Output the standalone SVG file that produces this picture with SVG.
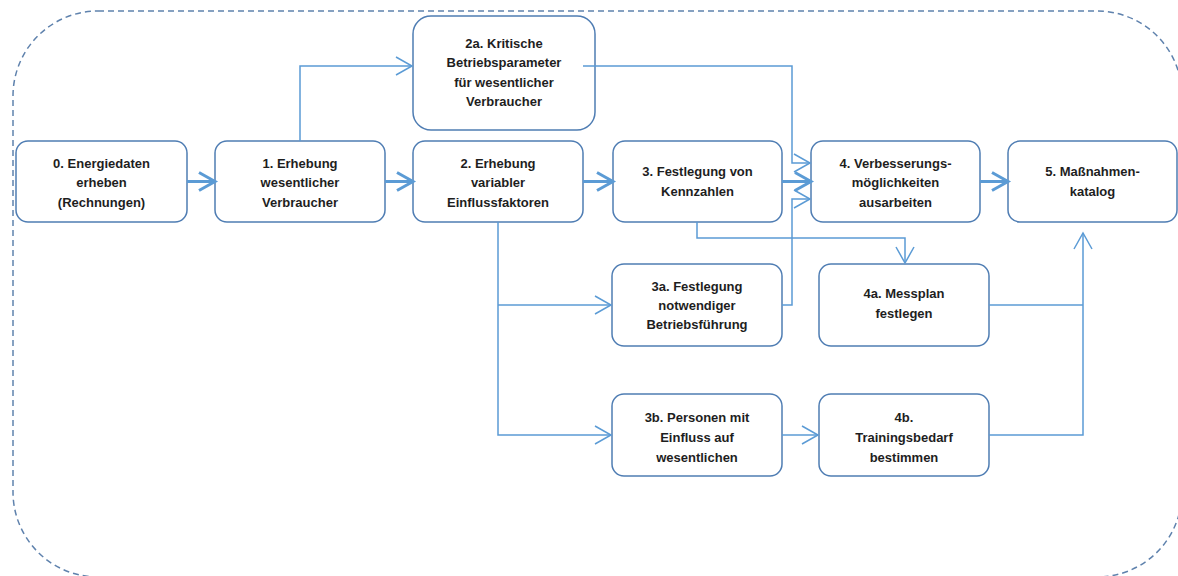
<svg xmlns="http://www.w3.org/2000/svg" width="1178" height="576" viewBox="0 0 1178 576">
<defs>
<style>
.box{fill:#ffffff;stroke:#4f7db3;stroke-width:1.5}
.lbl{font-family:"Liberation Sans",Arial,sans-serif;font-size:13px;font-weight:bold;fill:#1e1e1e;text-anchor:middle}
.thin{fill:none;stroke:#5b9bd5;stroke-width:1.5}
.thick{fill:none;stroke:#5b9bd5;stroke-width:3}
.frame{fill:none;stroke:#5f82ad;stroke-width:1.5;stroke-dasharray:6 4}
</style>
<marker id="ah" markerUnits="userSpaceOnUse" markerWidth="20" markerHeight="20" refX="16" refY="9" orient="auto" overflow="visible">
<path d="M0,0 L16,9 L0,18" fill="none" stroke="#5b9bd5" stroke-width="1.5"/>
</marker>
<marker id="ahT" markerUnits="userSpaceOnUse" markerWidth="20" markerHeight="20" refX="15" refY="9" orient="auto" overflow="visible">
<path d="M0,0 L16,9 L0,18" fill="none" stroke="#5b9bd5" stroke-width="3"/>
</marker>
</defs>
<rect class="frame" x="13" y="11" width="1169" height="566" rx="85" ry="85"/>
<g id="n0">
<rect class="box" x="16" y="141" width="171" height="81" rx="12"/>
<text class="lbl" x="101.5" y="168">0. Energiedaten</text>
<text class="lbl" x="101.5" y="187">erheben</text>
<text class="lbl" x="101.5" y="207">(Rechnungen)</text>
</g>
<g id="n1">
<rect class="box" x="215" y="141" width="170" height="81" rx="12"/>
<text class="lbl" x="300" y="168">1. Erhebung</text>
<text class="lbl" x="300" y="187">wesentlicher</text>
<text class="lbl" x="300" y="207">Verbraucher</text>
</g>
<g id="n2a">
<rect class="box" x="413" y="16" width="182" height="114" rx="18"/>
<text class="lbl" x="504" y="48">2a. Kritische</text>
<text class="lbl" x="504" y="67">Betriebsparameter</text>
<text class="lbl" x="504" y="87">für wesentlicher</text>
<text class="lbl" x="504" y="106">Verbraucher</text>
</g>
<g id="n2">
<rect class="box" x="413" y="141" width="170" height="81" rx="12"/>
<text class="lbl" x="498" y="168">2. Erhebung</text>
<text class="lbl" x="498" y="187">variabler</text>
<text class="lbl" x="498" y="207">Einflussfaktoren</text>
</g>
<g id="n3">
<rect class="box" x="613" y="141" width="169" height="81" rx="12"/>
<text class="lbl" x="697.5" y="176">3. Festlegung von</text>
<text class="lbl" x="697.5" y="196">Kennzahlen</text>
</g>
<g id="n4">
<rect class="box" x="811" y="141" width="169" height="81" rx="12"/>
<text class="lbl" x="895.5" y="168">4. Verbesserungs-</text>
<text class="lbl" x="895.5" y="187">möglichkeiten</text>
<text class="lbl" x="895.5" y="207">ausarbeiten</text>
</g>
<g id="n5">
<rect class="box" x="1008" y="141" width="169" height="81" rx="12"/>
<text class="lbl" x="1092.5" y="176">5. Maßnahmen-</text>
<text class="lbl" x="1092.5" y="196">katalog</text>
</g>
<g id="n3a">
<rect class="box" x="612" y="264" width="170" height="82" rx="12"/>
<text class="lbl" x="697" y="291">3a. Festlegung</text>
<text class="lbl" x="697" y="310">notwendiger</text>
<text class="lbl" x="697" y="329">Betriebsführung</text>
</g>
<g id="n4a">
<rect class="box" x="819" y="264" width="170" height="82" rx="12"/>
<text class="lbl" x="904" y="298">4a. Messplan</text>
<text class="lbl" x="904" y="318">festlegen</text>
</g>
<g id="n3b">
<rect class="box" x="612" y="394" width="170" height="82" rx="12"/>
<text class="lbl" x="697" y="422">3b. Personen mit</text>
<text class="lbl" x="697" y="442">Einfluss auf</text>
<text class="lbl" x="697" y="462">wesentlichen</text>
</g>
<g id="n4b">
<rect class="box" x="819" y="394" width="170" height="82" rx="12"/>
<text class="lbl" x="904" y="422">4b.</text>
<text class="lbl" x="904" y="442">Trainingsbedarf</text>
<text class="lbl" x="904" y="462">bestimmen</text>
</g>
<g id="connectors">
<path class="thick" d="M187,181.5 H214" marker-end="url(#ahT)"/>
<path class="thick" d="M385,181.5 H412" marker-end="url(#ahT)"/>
<path class="thick" d="M583,181.5 H612" marker-end="url(#ahT)"/>
<path class="thick" d="M782,181.5 H810" marker-end="url(#ahT)"/>
<path class="thick" d="M980,181.5 H1007" marker-end="url(#ahT)"/>
<path class="thin" d="M300,141 V66 H412" marker-end="url(#ah)"/>
<path class="thin" d="M583,66 H792 V163 H810" marker-end="url(#ah)"/>
<path class="thin" d="M782,305 H792 V199 H810" marker-end="url(#ah)"/>
<path class="thin" d="M697,222 V238 H905 V263" marker-end="url(#ah)"/>
<path class="thin" d="M498,222 V435 H611" marker-end="url(#ah)"/>
<path class="thin" d="M498,305 H611" marker-end="url(#ah)"/>
<path class="thin" d="M782,435 H818" marker-end="url(#ah)"/>
<path class="thin" d="M989,305 H1083"/>
<path class="thin" d="M989,435 H1083 V233" marker-end="url(#ah)"/>
</g>
</svg>
